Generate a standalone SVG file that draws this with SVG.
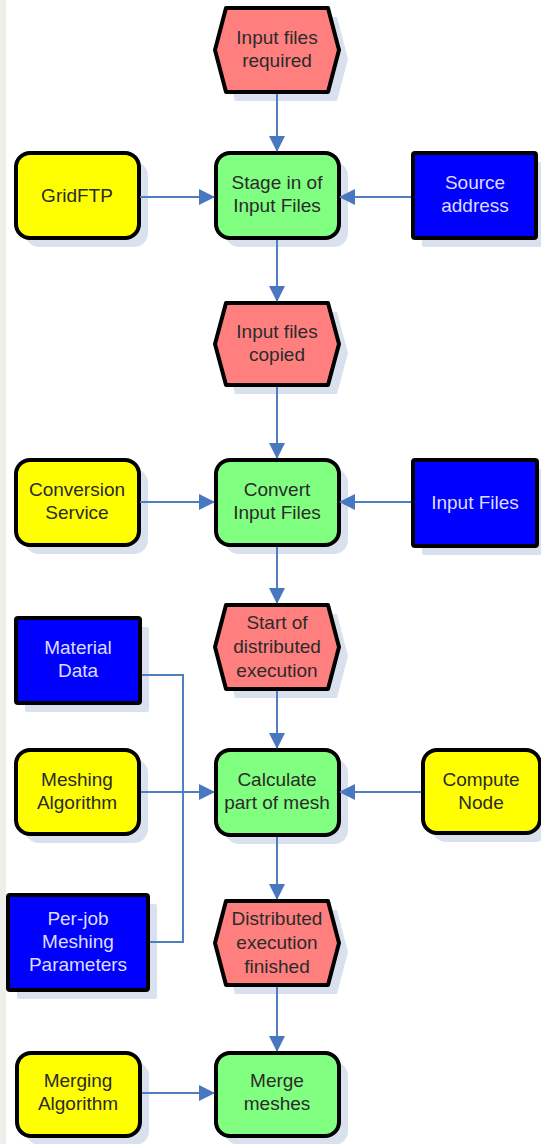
<svg xmlns="http://www.w3.org/2000/svg" width="541" height="1144" viewBox="0 0 541 1144">
  <style>
    .shadow { fill: #d9e1ef; stroke: none; }
    .event { fill: #ff7f7f; stroke: #000; stroke-width: 4; stroke-linejoin: round; }
    .func { fill: #80ff80; stroke: #000; stroke-width: 4; }
    .res { fill: #ffff00; stroke: #000; stroke-width: 4; }
    .info { fill: #0000ff; stroke: #000; stroke-width: 4; }
    .lbl { font-family: "Liberation Sans", Arial, sans-serif; font-size: 19px; fill: #2b2b2b; text-anchor: middle; }
    .lbl-w { font-family: "Liberation Sans", Arial, sans-serif; font-size: 19px; fill: #dcdcff; text-anchor: middle; }
    .edge { fill: none; stroke: #4f7fc0; stroke-width: 2; }
  </style>
  <defs>
    <marker id="arrow" markerWidth="16" markerHeight="16" refX="15" refY="8" orient="auto" markerUnits="userSpaceOnUse">
      <path d="M0,0 L16,8 L0,16 Z" fill="#4a78c0"/>
    </marker>
  </defs>

  <rect x="0" y="0" width="541" height="1144" fill="#ffffff"/>
  <rect x="0" y="0" width="6" height="1144" fill="#efefe9"/>

  <!-- events -->
  <g id="ev-input-required">
    <path class="shadow" d="M224,59 L235,17 L337,17 L348,59 L337,101 L235,101 Z"/>
    <path class="event" d="M215,50 L226,8 L328,8 L339,50 L328,92 L226,92 Z"/>
    <text class="lbl" x="277" y="44">Input files</text>
    <text class="lbl" x="277" y="67">required</text>
  </g>
  <g id="ev-input-copied">
    <path class="shadow" d="M224,353 L235,312 L337,312 L348,353 L337,394 L235,394 Z"/>
    <path class="event" d="M215,344 L226,303 L328,303 L339,344 L328,385 L226,385 Z"/>
    <text class="lbl" x="277" y="338">Input files</text>
    <text class="lbl" x="277" y="361">copied</text>
  </g>
  <g id="ev-start-distributed">
    <path class="shadow" d="M224,656 L235,614 L337,614 L348,656 L337,698 L235,698 Z"/>
    <path class="event" d="M215,647 L226,605 L328,605 L339,647 L328,689 L226,689 Z"/>
    <text class="lbl" x="277" y="629">Start of</text>
    <text class="lbl" x="277" y="653">distributed</text>
    <text class="lbl" x="277" y="677">execution</text>
  </g>
  <g id="ev-distributed-finished">
    <path class="shadow" d="M224,952 L235,910 L337,910 L348,952 L337,994 L235,994 Z"/>
    <path class="event" d="M215,943 L226,901 L328,901 L339,943 L328,985 L226,985 Z"/>
    <text class="lbl" x="277" y="925">Distributed</text>
    <text class="lbl" x="277" y="949">execution</text>
    <text class="lbl" x="277" y="973">finished</text>
  </g>

  <!-- functions -->
  <g id="fn-stage-in">
    <rect class="shadow" x="225" y="162" width="123" height="85" rx="14"/>
    <rect class="func" x="216" y="153" width="123" height="85" rx="14"/>
    <text class="lbl" x="277" y="189">Stage in of</text>
    <text class="lbl" x="277" y="212">Input Files</text>
  </g>
  <g id="fn-convert">
    <rect class="shadow" x="225" y="469" width="123" height="85" rx="14"/>
    <rect class="func" x="216" y="460" width="123" height="85" rx="14"/>
    <text class="lbl" x="277" y="496">Convert</text>
    <text class="lbl" x="277" y="519">Input Files</text>
  </g>
  <g id="fn-calculate">
    <rect class="shadow" x="225" y="759" width="123" height="85" rx="14"/>
    <rect class="func" x="216" y="750" width="123" height="85" rx="14"/>
    <text class="lbl" x="277" y="786">Calculate</text>
    <text class="lbl" x="277" y="809">part of mesh</text>
  </g>
  <g id="fn-merge">
    <rect class="shadow" x="225" y="1062" width="123" height="83" rx="14"/>
    <rect class="func" x="216" y="1053" width="123" height="83" rx="14"/>
    <text class="lbl" x="277" y="1087">Merge</text>
    <text class="lbl" x="277" y="1110">meshes</text>
  </g>

  <!-- resources -->
  <g id="res-gridftp">
    <rect class="shadow" x="25" y="162" width="123" height="85" rx="14"/>
    <rect class="res" x="16" y="153" width="123" height="85" rx="14"/>
    <text class="lbl" x="77" y="202">GridFTP</text>
  </g>
  <g id="res-conversion">
    <rect class="shadow" x="25" y="469" width="123" height="85" rx="14"/>
    <rect class="res" x="16" y="460" width="123" height="85" rx="14"/>
    <text class="lbl" x="77" y="496">Conversion</text>
    <text class="lbl" x="77" y="519">Service</text>
  </g>
  <g id="res-meshing">
    <rect class="shadow" x="25" y="759" width="123" height="84" rx="14"/>
    <rect class="res" x="16" y="750" width="123" height="84" rx="14"/>
    <text class="lbl" x="77" y="786">Meshing</text>
    <text class="lbl" x="77" y="809">Algorithm</text>
  </g>
  <g id="res-compute">
    <rect class="shadow" x="432" y="759" width="117" height="83" rx="14"/>
    <rect class="res" x="423" y="750" width="117" height="83" rx="14"/>
    <text class="lbl" x="481" y="786">Compute</text>
    <text class="lbl" x="481" y="809">Node</text>
  </g>
  <g id="res-merging">
    <rect class="shadow" x="26" y="1062" width="123" height="83" rx="14"/>
    <rect class="res" x="17" y="1053" width="123" height="83" rx="14"/>
    <text class="lbl" x="78" y="1087">Merging</text>
    <text class="lbl" x="78" y="1110">Algorithm</text>
  </g>

  <!-- information objects -->
  <g id="info-source">
    <rect class="shadow" x="422" y="162" width="123" height="85" rx="2"/>
    <rect class="info" x="413" y="153" width="123" height="85" rx="2"/>
    <text class="lbl-w" x="475" y="189">Source</text>
    <text class="lbl-w" x="475" y="212">address</text>
  </g>
  <g id="info-input-files">
    <rect class="shadow" x="422" y="469" width="124" height="86" rx="2"/>
    <rect class="info" x="413" y="460" width="124" height="86" rx="2"/>
    <text class="lbl-w" x="475" y="509">Input Files</text>
  </g>
  <g id="info-material">
    <rect class="shadow" x="25" y="627" width="124" height="85" rx="2"/>
    <rect class="info" x="16" y="618" width="124" height="85" rx="2"/>
    <text class="lbl-w" x="78" y="654">Material</text>
    <text class="lbl-w" x="78" y="677">Data</text>
  </g>
  <g id="info-perjob">
    <rect class="shadow" x="17" y="904" width="140" height="95" rx="2"/>
    <rect class="info" x="8" y="895" width="140" height="95" rx="2"/>
    <text class="lbl-w" x="78" y="925">Per-job</text>
    <text class="lbl-w" x="78" y="948">Meshing</text>
    <text class="lbl-w" x="78" y="971">Parameters</text>
  </g>

  <!-- connectors, drawn over the drop shadows -->
  <g id="connectors">
    <path class="edge" d="M277,94 V151" marker-end="url(#arrow)"/>
    <path class="edge" d="M140,197 H214" marker-end="url(#arrow)"/>
    <path class="edge" d="M411,197 H340" marker-end="url(#arrow)"/>
    <path class="edge" d="M277,240 V301" marker-end="url(#arrow)"/>
    <path class="edge" d="M277,387 V458" marker-end="url(#arrow)"/>
    <path class="edge" d="M140,502 H214" marker-end="url(#arrow)"/>
    <path class="edge" d="M411,502 H340" marker-end="url(#arrow)"/>
    <path class="edge" d="M277,547 V603" marker-end="url(#arrow)"/>
    <path class="edge" d="M277,691 V748" marker-end="url(#arrow)"/>
    <path class="edge" d="M142,675 H183 V942 H150"/>
    <path class="edge" d="M141,792 H214" marker-end="url(#arrow)"/>
    <path class="edge" d="M421,792 H340" marker-end="url(#arrow)"/>
    <path class="edge" d="M277,837 V899" marker-end="url(#arrow)"/>
    <path class="edge" d="M277,987 V1051" marker-end="url(#arrow)"/>
    <path class="edge" d="M142,1093 H214" marker-end="url(#arrow)"/>
  </g>
</svg>
